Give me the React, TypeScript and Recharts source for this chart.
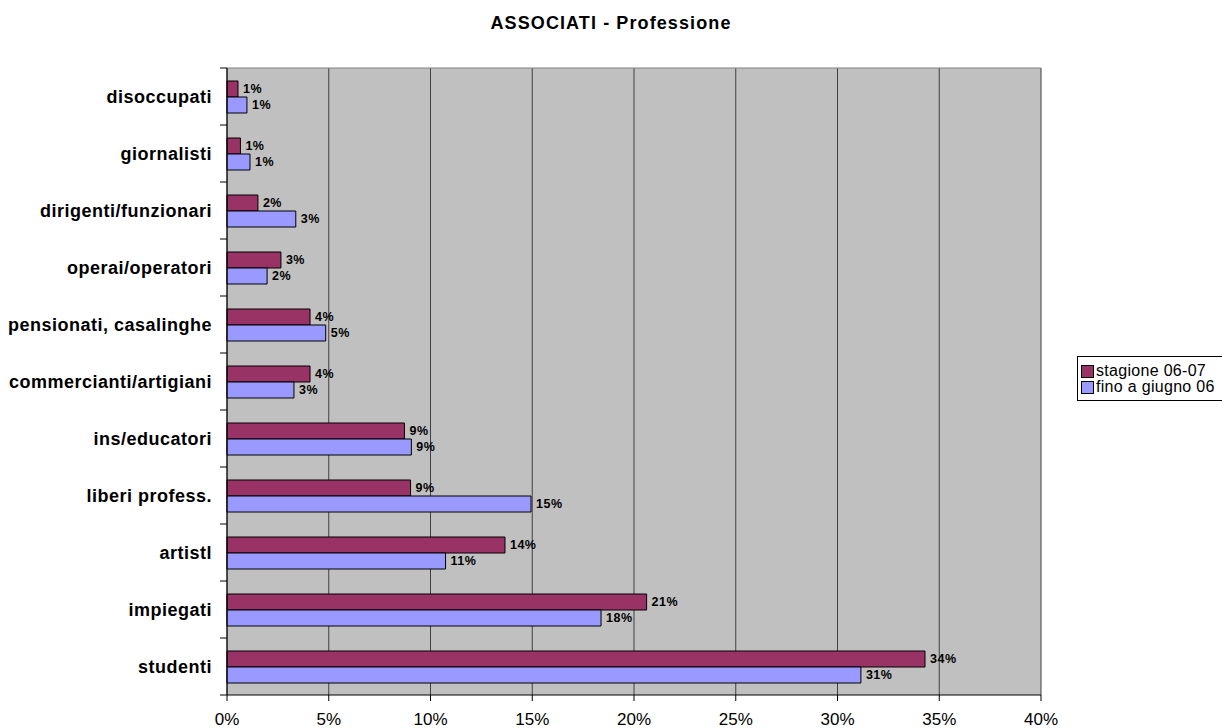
import {
  BarChart,
  Bar,
  XAxis,
  YAxis,
  CartesianGrid,
  LabelList,
} from 'recharts'

const categories = [
  'disoccupati',
  'giornalisti',
  'dirigenti/funzionari',
  'operai/operatori',
  'pensionati, casalinghe',
  'commercianti/artigiani',
  'ins/educatori',
  'liberi profess.',
  'artistl',
  'impiegati',
  'studenti',
]

// percent values
const stagione0607 = [0.54, 0.66, 1.52, 2.65, 4.08, 4.08, 8.72, 9.02, 13.66, 20.62, 34.3]
const finoGiugno06 = [0.98, 1.13, 3.38, 1.97, 4.85, 3.29, 9.06, 14.94, 10.74, 18.38, 31.15]

const xTicks = [0, 5, 10, 15, 20, 25, 30, 35, 40]

const series = [
  { key: 'stagione', name: 'stagione 06-07', color: '#993366' },
  { key: 'fino', name: 'fino a giugno 06', color: '#9999FF' },
]

const data = categories.map((name, i) => ({
  name,
  stagione: stagione0607[i],
  fino: finoGiugno06[i],
}))

const FONT = '"Liberation Sans", Arial, Helvetica, sans-serif'
const W = 1222
const H = 728
const MARGIN = { top: 68, right: 181, bottom: 0, left: 0 }
const X_AXIS_H = 33
const BAND = (H - MARGIN.top - MARGIN.bottom - X_AXIS_H) / categories.length

function CategoryTick(props: any) {
  const { x, y, payload, index } = props
  const ax = x + 15
  return (
    <g>
      <text
        x={x}
        y={y}
        dy="0.355em"
        textAnchor="end"
        fontFamily={FONT}
        fontSize={18}
        fontWeight="bold"
        letterSpacing={0.5}
        fill="#000"
      >
        {payload.value}
      </text>
      <line x1={ax - 7} x2={ax} y1={y - BAND / 2} y2={y - BAND / 2} stroke="#000" />
      {index === categories.length - 1 && (
        <line x1={ax - 7} x2={ax} y1={y + BAND / 2} y2={y + BAND / 2} stroke="#000" />
      )}
    </g>
  )
}

export default function App() {
  return (
    <div
      style={{
        position: 'absolute',
        left: 0,
        top: 0,
        width: W,
        height: H,
        overflow: 'hidden',
        background: '#fff',
        fontFamily: FONT,
      }}
    >
      <div
        style={{
          position: 'absolute',
          left: 611,
          top: 13,
          transform: 'translateX(-50%)',
          whiteSpace: 'nowrap',
          fontSize: 18,
          fontWeight: 'bold',
          letterSpacing: 1.1,
        }}
      >
        ASSOCIATI - Professione
      </div>

      <BarChart
        width={W}
        height={H}
        data={data}
        layout="vertical"
        margin={MARGIN}
        barSize={16}
        barGap={0}
      >
        <CartesianGrid fill="#C0C0C0" stroke="#404040" horizontal={false} />
        <CartesianGrid
          vertical={false}
          stroke="#808080"
          horizontalCoordinatesGenerator={({ offset }: any) => [offset.top]}
        />
        <XAxis
          type="number"
          domain={[0, 40]}
          ticks={xTicks}
          interval={0}
          tickFormatter={(v: number) => `${v}%`}
          height={X_AXIS_H}
          tickSize={6}
          tickMargin={12}
          axisLine={{ stroke: '#000' }}
          tickLine={{ stroke: '#000' }}
          tick={{ fontSize: 17, fill: '#000', fontFamily: FONT }}
        />
        <YAxis
          type="category"
          dataKey="name"
          width={227}
          interval={0}
          tickSize={6}
          tickMargin={9}
          tickLine={false}
          axisLine={{ stroke: '#000' }}
          tick={<CategoryTick />}
        />
        {series.map((s) => (
          <Bar
            key={s.key}
            dataKey={s.key}
            name={s.name}
            fill={s.color}
            stroke="#000"
            strokeWidth={1}
            isAnimationActive={false}
          >
            <LabelList
              dataKey={s.key}
              position="right"
              offset={5}
              formatter={(v: any) => `${Math.round(Number(v))}%`}
              style={{
                fontSize: 12.5,
                fontWeight: 'bold',
                fill: '#000',
                fontFamily: FONT,
                letterSpacing: 0.5,
              }}
            />
          </Bar>
        ))}
      </BarChart>

      <div
        style={{
          position: 'absolute',
          left: 1077,
          top: 356,
          width: 170,
          border: '1px solid #000',
          padding: '6px 0 5px 3px',
          background: '#fff',
        }}
      >
        {series.map((s) => (
          <div
            key={s.key}
            style={{
              display: 'flex',
              alignItems: 'center',
              height: 16,
              lineHeight: '16px',
              fontSize: 16,
              letterSpacing: 0.3,
              whiteSpace: 'nowrap',
            }}
          >
            <span
              style={{
                display: 'inline-block',
                width: 11,
                height: 11,
                background: s.color,
                border: '1px solid #000',
                marginRight: 2,
              }}
            />
            {s.name}
          </div>
        ))}
      </div>
    </div>
  )
}
